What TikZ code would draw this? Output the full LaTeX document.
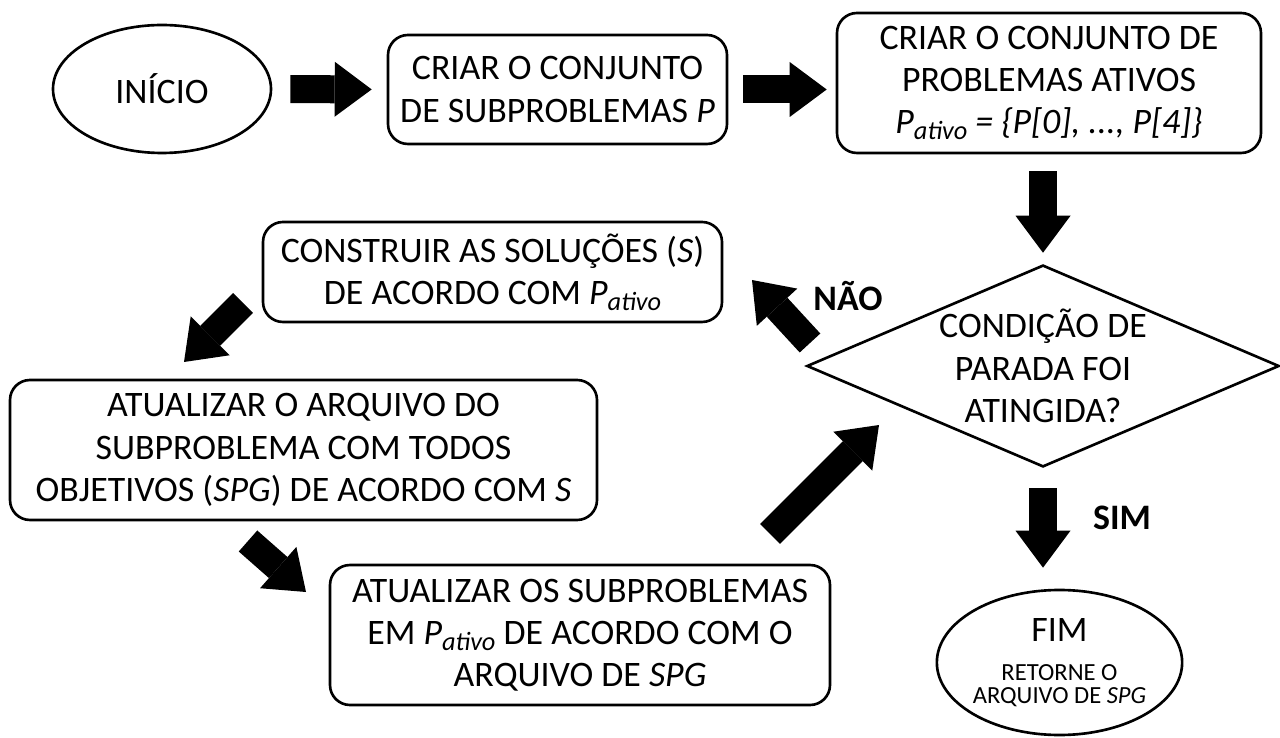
\documentclass[tikz,border=0pt]{standalone}
\usepackage{fontspec}
\setmainfont{Carlito}
\usetikzlibrary{arrows.meta,positioning,calc,shapes.geometric}
\newcommand{\pativo}{\textit{P}\raisebox{-0.35ex}{\fontsize{15}{15}\selectfont\textit{ativo}}}

\begin{document}
\begin{tikzpicture}[font=\fontsize{20.4}{24}\selectfont,
 box/.style={draw,line width=1.5pt,rounded corners=0.4cm,align=center,inner sep=0pt},
 term/.style={draw,ellipse,line width=1.5pt,align=center,inner sep=0pt},
 blk/.style={line width=0.56cm,-{Triangle[line width=0pt,width=1.1cm,length=0.74cm]}},
 lbl/.style={font=\fontsize{20.4}{24}\selectfont\bfseries}]
\useasboundingbox (0,0) rectangle (25.6,-14.76);
\node[term,minimum width=4.36cm,minimum height=2.56cm] (ini) at (3.24,-1.78) {INÍCIO};
\node[box,minimum width=6.78cm,minimum height=2.18cm] (sub) at (11.15,-1.79) {CRIAR O CONJUNTO\\DE SUBPROBLEMAS \textit{P}};
\node[box,minimum width=8.48cm,minimum height=2.8cm] (con) at (20.98,-1.66) {CRIAR O CONJUNTO DE\\PROBLEMAS ATIVOS\\\pativo\ \textit{= \{P[0], ..., P[4]\}}};
\node[draw,diamond,aspect=2.34,line width=1.5pt,align=center,inner sep=0pt,minimum width=9.36cm,minimum height=4cm] (dec) at (20.86,-7.32) {CONDIÇÃO DE\\PARADA FOI\\ATINGIDA?};
\node[box,minimum width=9.18cm,minimum height=2cm] (sol) at (9.85,-5.44) {CONSTRUIR AS SOLUÇÕES (\textit{S})\\DE ACORDO COM \pativo};
\node[box,minimum width=11.74cm,minimum height=2.8cm] (arq) at (6.07,-9.0) {ATUALIZAR O ARQUIVO DO\\SUBPROBLEMA COM TODOS\\OBJETIVOS (\textit{SPG}) DE ACORDO COM \textit{S}};
\node[box,minimum width=10cm,minimum height=2.8cm] (upd) at (11.6,-12.7) {ATUALIZAR OS SUBPROBLEMAS\\EM \pativo\ DE ACORDO COM O\\ARQUIVO DE \textit{SPG}};
\node[term,minimum width=4.74cm,minimum height=2.9cm,font=\fontsize{14}{13}\selectfont] (fim) at (21.19,-13.25) {{\fontsize{20.4}{24}\selectfont FIM}\\[9pt]RETORNE O\\ARQUIVO DE \textit{SPG}};
\node[lbl] (nao) at (16.96,-5.92) {NÃO};
\node[lbl] (sim) at (22.44,-10.36) {SIM};
\coordinate (n1) at (16.2,-6.86);
\coordinate (n2) at (15.04,-5.6);
\coordinate (d1) at (4.86,-6.06);
\coordinate (d2) at (3.68,-7.24);
\coordinate (r1) at (4.96,-10.82);
\coordinate (r2) at (6.12,-11.84);
\coordinate (u1) at (15.4,-10.68);
\coordinate (u2) at (17.58,-8.5);
\draw[blk,shorten <=0.36cm,shorten >=0.3cm] (ini.east) -- (sub.west);
\draw[blk,shorten <=0.3cm,shorten >=0.18cm] (sub.east) -- (sub.east -| con.west);
\draw[blk,shorten <=0.34cm,shorten >=0.22cm] (con.south -| dec.north) -- (dec.north);
\draw[blk,shorten <=0.4cm,shorten >=0.42cm] (dec.south) -- (dec.south |- fim.north);
\draw[blk] (n1) -- (n2);
\draw[blk] (d1) -- (d2);
\draw[blk] (r1) -- (r2);
\draw[blk] (u1) -- (u2);
\end{tikzpicture}
\end{document}
